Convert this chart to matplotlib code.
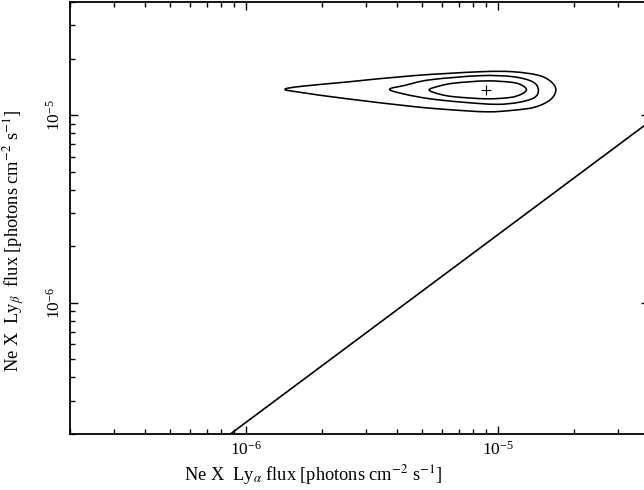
import numpy as np
import matplotlib
matplotlib.use("Agg")
import matplotlib.pyplot as plt
from matplotlib.path import Path
from matplotlib.patches import PathPatch
from matplotlib.ticker import LogLocator, NullFormatter, LogFormatterSciNotation

plt.rcParams["font.family"] = ["Liberation Serif", "DejaVu Serif"]
plt.rcParams["mathtext.fontset"] = "stix"

# Best-fit Ne X Ly-alpha / Ly-beta fluxes (photons cm^-2 s^-1)
best_fit_x = [9.0e-6]
best_fit_y = [1.36e-5]

# Confidence contours (outer, middle, inner): vertices along each closed curve
outer_x = [1.43e-6, 1.65e-6, 2.53e-6, 4.61e-6, 8.49e-6, 1.15e-5, 1.47e-5, 1.65e-5, 1.70e-5,
           1.61e-5, 1.40e-5, 1.15e-5, 9.05e-6, 6.29e-6, 4.61e-6, 2.53e-6, 1.65e-6]
outer_y = [1.37e-5, 1.42e-5, 1.50e-5, 1.62e-5, 1.70e-5, 1.70e-5, 1.62e-5, 1.48e-5, 1.34e-5,
           1.20e-5, 1.10e-5, 1.06e-5, 1.04e-5, 1.07e-5, 1.11e-5, 1.22e-5, 1.32e-5]

middle_x = [3.72e-6, 4.29e-6, 5.39e-6, 8.49e-6, 1.15e-5, 1.38e-5, 1.45e-5, 1.40e-5, 1.22e-5,
            9.91e-6, 7.27e-6, 5.39e-6, 4.29e-6]
middle_y = [1.37e-5, 1.44e-5, 1.54e-5, 1.62e-5, 1.60e-5, 1.50e-5, 1.36e-5, 1.24e-5, 1.17e-5,
            1.14e-5, 1.17e-5, 1.22e-5, 1.29e-5]

inner_x = [5.34e-6, 5.90e-6, 6.76e-6, 9.05e-6, 1.15e-5, 1.26e-5, 1.30e-5, 1.24e-5, 1.12e-5,
           9.05e-6, 6.76e-6, 5.90e-6]
inner_y = [1.36e-5, 1.43e-5, 1.48e-5, 1.52e-5, 1.49e-5, 1.43e-5, 1.36e-5, 1.29e-5, 1.24e-5,
           1.22e-5, 1.25e-5, 1.29e-5]

# Reference ratio line Ly-beta / Ly-alpha = 0.23
ratio_line_x = [8.7e-7, 4.0e-5]
ratio_line_y = [2.0e-7, 9.2e-6]

x_limits = [2e-7, 4e-5]
y_limits = [2e-7, 4e-5]


def smooth_closed_path(xs, ys):
    """Closed cubic Bezier path through the given vertices (Catmull-Rom, in log space)."""
    p = np.column_stack([np.log10(xs), np.log10(ys)])
    n = len(p)
    verts = [p[0]]
    codes = [Path.MOVETO]
    for i in range(n):
        p0, p1, p2, p3 = p[i - 1], p[i], p[(i + 1) % n], p[(i + 2) % n]
        c1 = p1 + (p2 - p0) / 6.0
        c2 = p2 - (p3 - p1) / 6.0
        verts += [c1, c2, p2]
        codes += [Path.CURVE4] * 3
    return Path(10.0 ** np.array(verts), codes)


fig = plt.figure(figsize=(6.44, 4.90), dpi=100)
ax = fig.add_axes([0.1081, 0.1145, 0.9003, 0.8814])
ax.set_xscale("log")
ax.set_yscale("log")
ax.set_xlim(x_limits)
ax.set_ylim(y_limits)

for cx, cy in [(outer_x, outer_y), (middle_x, middle_y), (inner_x, inner_y)]:
    ax.add_patch(PathPatch(smooth_closed_path(cx, cy), facecolor="none",
                           edgecolor="black", lw=1.15))

ax.plot(best_fit_x, best_fit_y, marker="+", color="black", ms=7, mew=0.8, ls="none")
ax.plot(ratio_line_x, ratio_line_y, color="black", lw=1.2)

for axis in (ax.xaxis, ax.yaxis):
    axis.set_major_locator(LogLocator(base=10))
    axis.set_minor_locator(LogLocator(base=10, subs=range(2, 10)))
    axis.set_major_formatter(LogFormatterSciNotation())
    axis.set_minor_formatter(NullFormatter())

ax.tick_params(which="both", direction="in", top=True, right=True, width=1.0,
               labelsize=12.5, colors="black")
ax.tick_params(which="major", length=6)
ax.tick_params(which="minor", length=3.5)
ax.tick_params(axis="x", pad=5)
ax.tick_params(axis="y", pad=4)
for lbl in ax.get_yticklabels():
    lbl.set_rotation(90)
    lbl.set_va("center")

for sp in ax.spines.values():
    sp.set_linewidth(1.3)

ax.set_xlabel(r"Ne X  Ly$_\alpha$ flux [photons cm$^{-2}$ s$^{-1}$]", fontsize=13.2)
ax.set_ylabel(r"Ne X  Ly$_\beta$  flux [photons cm$^{-2}$ s$^{-1}$]", fontsize=13.2)
ax.xaxis.set_label_coords(0.42, -0.067)
ax.yaxis.set_label_coords(-0.073, 0.447)

fig.savefig("out.png", dpi=100)
